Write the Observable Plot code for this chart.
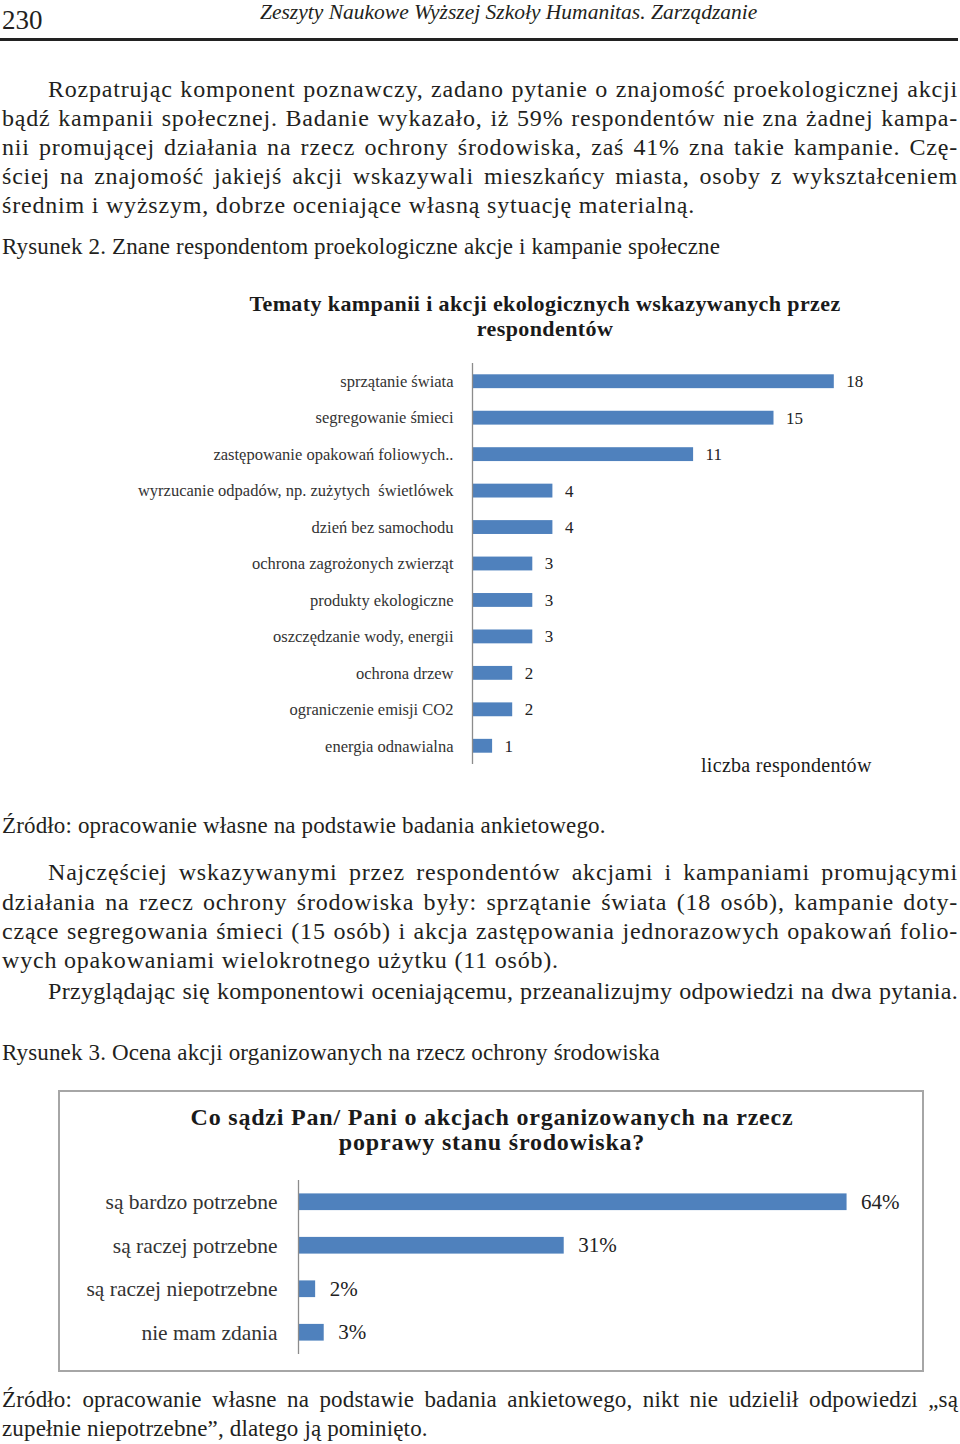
<!DOCTYPE html>
<html><head><meta charset="utf-8">
<script src="https://cdn.jsdelivr.net/npm/d3@7"></script>
<script src="https://cdn.jsdelivr.net/npm/@observablehq/plot@0.6"></script>
<style>
body{margin:0;background:#fff;}
#page{position:relative;width:960px;height:1444px;overflow:hidden;font-family:"Liberation Serif",serif;color:#231f20;}
.t{position:absolute;white-space:nowrap;}
.j{position:absolute;text-align:justify;text-align-last:justify;word-spacing:-2px;}
.b{font-size:24px;line-height:29px;height:29px;letter-spacing:0.8px;}
.s{font-size:23px;line-height:29px;height:29px;letter-spacing:0.15px;}
.ct{position:absolute;text-align:center;font-weight:bold;line-height:25px;color:#1a1a1a;}
#c1,#c2{position:absolute;left:0;}
#box{position:absolute;left:58px;top:1090px;width:866px;height:282px;border:2px solid #a6a6a6;box-sizing:border-box;}
</style></head>
<body><div id="page">
<div class="t" style="left:2px;top:5px;font-size:27px;line-height:30px;">230</div>
<div class="t" style="left:260px;top:-3px;font-size:21.5px;line-height:30px;font-style:italic;">Zeszyty Naukowe Wyższej Szkoły Humanitas. Zarządzanie</div>
<div style="position:absolute;left:0;top:38px;width:958px;height:3px;background:#222;"></div>

<div class="j b" style="left:48px;width:910px;top:75px;">Rozpatrując komponent poznawczy, zadano pytanie o znajomość proekologicznej akcji</div>
<div class="j b" style="left:2px;width:956px;top:104px;">bądź kampanii społecznej. Badanie wykazało, iż 59% respondentów nie zna żadnej kampa-</div>
<div class="j b" style="left:2px;width:956px;top:133px;">nii promującej działania na rzecz ochrony środowiska, zaś 41% zna takie kampanie. Czę-</div>
<div class="j b" style="left:2px;width:956px;top:162px;">ściej na znajomość jakiejś akcji wskazywali mieszkańcy miasta, osoby z wykształceniem</div>
<div class="t b" style="left:2px;top:191px;">średnim i wyższym, dobrze oceniające własną sytuację materialną.</div>

<div class="t s" style="left:2px;top:232px;">Rysunek 2. Znane respondentom proekologiczne akcje i kampanie społeczne</div>

<div class="ct" style="left:215px;width:660px;top:291px;font-size:22px;letter-spacing:0.4px;">Tematy kampanii i akcji ekologicznych wskazywanych przez<br>respondentów</div>
<div id="c1" style="top:350px;"></div>
<div class="t" style="left:701px;top:752px;font-size:20px;line-height:26px;color:#1a1a1a;letter-spacing:0.3px;">liczba respondentów</div>

<div class="t s" style="left:2px;top:811px;">Źródło: opracowanie własne na podstawie badania ankietowego.</div>

<div class="j b" style="left:48px;width:910px;top:858px;">Najczęściej wskazywanymi przez respondentów akcjami i kampaniami promującymi</div>
<div class="j b" style="left:2px;width:956px;top:888px;">działania na rzecz ochrony środowiska były: sprzątanie świata (18 osób), kampanie doty-</div>
<div class="j b" style="left:2px;width:956px;top:917px;">czące segregowania śmieci (15 osób) i akcja zastępowania jednorazowych opakowań folio-</div>
<div class="t b" style="left:2px;top:946px;">wych opakowaniami wielokrotnego użytku (11 osób).</div>
<div class="j b" style="left:48px;width:910px;top:977px;letter-spacing:0.3px;word-spacing:-3px;">Przyglądając się komponentowi oceniającemu, przeanalizujmy odpowiedzi na dwa pytania.</div>

<div class="t s" style="left:2px;top:1038px;">Rysunek 3. Ocena akcji organizowanych na rzecz ochrony środowiska</div>

<div id="box"></div>
<div class="ct" style="left:142px;width:700px;top:1105px;font-size:24px;letter-spacing:0.8px;">Co sądzi Pan/ Pani o akcjach organizowanych na rzecz<br>poprawy stanu środowiska?</div>
<div id="c2" style="top:1170px;"></div>

<div class="j s" style="left:2px;width:956px;top:1385px;">Źródło: opracowanie własne na podstawie badania ankietowego, nikt nie udzielił odpowiedzi „są</div>
<div class="t s" style="left:2px;top:1414px;">zupełnie niepotrzebne”, dlatego ją pominięto.</div>
</div>
<script>
const topics = ["sprzątanie świata","segregowanie śmieci","zastępowanie opakowań foliowych..","wyrzucanie odpadów, np. zużytych  świetlówek","dzień bez samochodu","ochrona zagrożonych zwierząt","produkty ekologiczne","oszczędzanie wody, energii","ochrona drzew","ograniczenie emisji CO2","energia odnawialna"];
const counts = [18,15,11,4,4,3,3,3,2,2,1];
const opinions = ["są bardzo potrzebne","są raczej potrzebne","są raczej niepotrzebne","nie mam zdania"];
const shares = [64,31,2,3];

const barColor = "#4f81bd";
const data1 = topics.map((t,i)=>({topic:t, value:counts[i]}));
const data2 = opinions.map((t,i)=>({opinion:t, value:shares[i]}));

const chart1 = Plot.plot({
  width:960, height:420, marginTop:13, marginBottom:6, marginLeft:472, marginRight:86,
  style:{fontFamily:'"Liberation Serif", serif', background:'transparent', color:'#333'},
  x:{domain:[0,20], axis:null},
  y:{domain:topics, paddingInner:0.62, paddingOuter:0.31, round:false, label:null},
  marks:[
    Plot.barX(data1,{x:"value", y:"topic", fill:barColor}),
    Plot.ruleX([0],{stroke:"#8c8c8c", strokeWidth:1.3}),
    Plot.axisY({tickSize:0, tickPadding:19, fontSize:16.5, label:null}),
    Plot.text(data1,{x:"value", y:"topic", text:d=>String(d.value), dx:12, textAnchor:"start", fontSize:17, fill:"#222"})
  ]
});
document.getElementById("c1").appendChild(chart1);

const chart2 = Plot.plot({
  width:960, height:190, marginTop:10, marginBottom:6, marginLeft:298, marginRight:62,
  style:{fontFamily:'"Liberation Serif", serif', background:'transparent', color:'#333'},
  x:{domain:[0,70], axis:null},
  y:{domain:opinions, paddingInner:0.616, paddingOuter:0.308, round:false, label:null},
  marks:[
    Plot.barX(data2,{x:"value", y:"opinion", fill:barColor}),
    Plot.ruleX([0],{stroke:"#8c8c8c", strokeWidth:1.3}),
    Plot.axisY({tickSize:0, tickPadding:21, fontSize:21.5, label:null}),
    Plot.text(data2,{x:"value", y:"opinion", text:d=>d.value+"%", dx:14, textAnchor:"start", fontSize:21, fill:"#222"})
  ]
});
document.getElementById("c2").appendChild(chart2);
</script>
</body></html>
